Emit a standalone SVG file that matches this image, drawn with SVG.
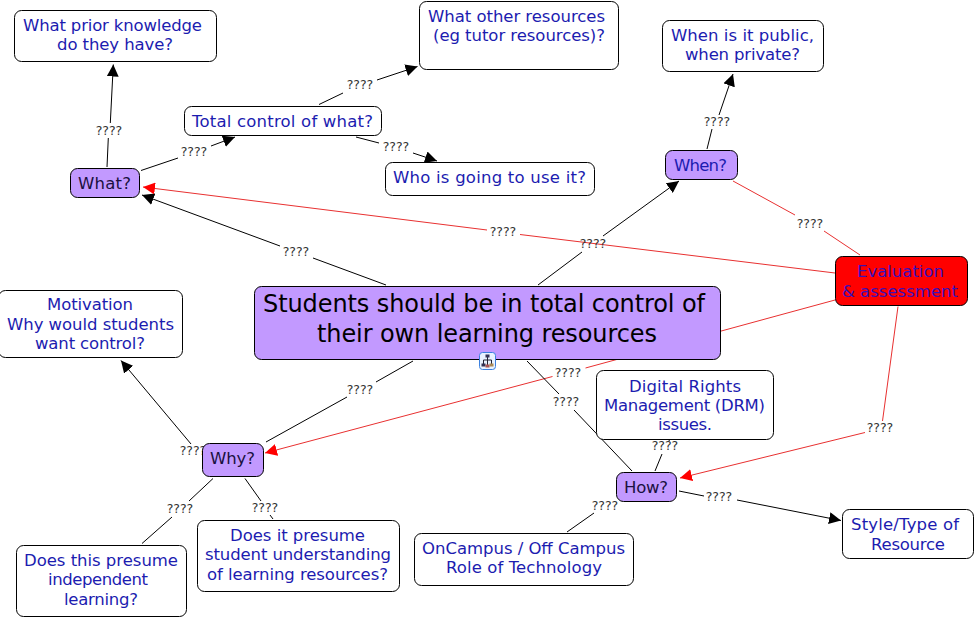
<svg xmlns="http://www.w3.org/2000/svg" width="975" height="619" viewBox="0 0 975 619">
<style>
text{font-family:"DejaVu Sans",Verdana,sans-serif;text-anchor:middle}
.n{font-size:16.500px;fill:#1c1cb0}
.d{font-size:16.500px;fill:#1a1040}
.l{font-size:12.500px;fill:#333}
.c{font-size:24px;fill:#000}
.w{fill:#fff;stroke:#000;stroke-width:1}
.p{fill:#c299ff;stroke:#000;stroke-width:1}
.k{stroke:#000;stroke-width:1;fill:none}
.r{stroke:#e83030;stroke-width:1;fill:none}
</style>
<defs>
<marker id="ab" markerUnits="userSpaceOnUse" markerWidth="14" markerHeight="12" refX="12" refY="6" orient="auto"><path d="M0 0L12 6L0 12Z" fill="#000"/></marker>
<marker id="ar" markerUnits="userSpaceOnUse" markerWidth="14" markerHeight="12" refX="12" refY="6" orient="auto"><path d="M0 0L12 6L0 12Z" fill="#f00"/></marker>
</defs>
<rect width="975" height="619" fill="#fff"/>
<g id="connectors">
<path class="k" d="M107 167L108.300 138"/><path class="k" d="M110.300 123L113.300 64.500" marker-end="url(#ab)"/>
<path class="k" d="M141 170.500L178 158"/><path class="k" d="M211 146L235 137" marker-end="url(#ab)"/>
<path class="k" d="M319 104.500L343 93"/><path class="k" d="M377 80L417.500 66.500" marker-end="url(#ab)"/>
<path class="k" d="M356 137L379 143"/><path class="k" d="M413 153L437 161" marker-end="url(#ab)"/>
<path class="k" d="M386 285L313 258"/><path class="k" d="M280 246L142 195" marker-end="url(#ab)"/>
<path class="r" d="M835 273L520 234.500"/><path class="r" d="M487 230L143 187" marker-end="url(#ar)"/>
<path class="k" d="M538 285L582 252"/><path class="k" d="M603 236L679 181" marker-end="url(#ab)"/>
<path class="k" d="M707 149L712 129"/><path class="k" d="M719 115L733 74" marker-end="url(#ab)"/>
<path class="r" d="M733 181L795 215"/><path class="r" d="M824 231L860 255"/>
<path class="r" d="M835 300L585.500 368"/><path class="r" d="M552.500 376.500L265 453" marker-end="url(#ar)"/>
<path class="k" d="M413 361L376 382"/><path class="k" d="M347 397L266 442"/>
<path class="k" d="M527 361L559 394"/><path class="k" d="M574 410L632 471"/>
<path class="k" d="M670 438L669 441"/><path class="k" d="M662 454L655 471"/>
<path class="r" d="M898 306.500L882.500 421"/><path class="r" d="M865 432.500L680 478" marker-end="url(#ar)"/>
<path class="k" d="M679 491L704 496"/><path class="k" d="M737 500L841 520.500" marker-end="url(#ab)"/>
<path class="k" d="M594 513L567 532"/>
<path class="k" d="M191 444L121 360.500" marker-end="url(#ab)"/>
<path class="k" d="M213 478.500L189 501"/><path class="k" d="M172 517L142 543.500"/>
<path class="k" d="M245 478.500L261 501"/><path class="k" d="M270 515L273 519"/>
</g>
<g id="connector-labels">
<text class="l" x="109" y="135">????</text>
<text class="l" x="194" y="156">????</text>
<text class="l" x="360" y="89">????</text>
<text class="l" x="396" y="151">????</text>
<text class="l" x="296" y="256">????</text>
<text class="l" x="503" y="236">????</text>
<text class="l" x="593" y="248">????</text>
<text class="l" x="717" y="126">????</text>
<text class="l" x="810" y="228">????</text>
<text class="l" x="360" y="394">????</text>
<text class="l" x="193" y="455">????</text>
<text class="l" x="180" y="513">????</text>
<text class="l" x="265" y="512">????</text>
<text class="l" x="568" y="377">????</text>
<text class="l" x="566" y="406">????</text>
<text class="l" x="665" y="450">????</text>
<text class="l" x="880" y="432">????</text>
<text class="l" x="719" y="501">????</text>
<text class="l" x="605" y="510">????</text>
</g>
<g id="prior"><rect class="w" x="14.500" y="10.500" width="202" height="51" rx="7"/><text class="n" x="112.500" y="31" textLength="179">What prior knowledge</text><text class="n" x="115" y="50" textLength="116">do they have?</text></g>
<g id="total"><rect class="w" x="184.500" y="106.500" width="197" height="29" rx="7"/><text class="n" x="282.500" y="127" textLength="181">Total control of what?</text></g>
<g id="what"><rect class="p" x="70.500" y="168.500" width="69" height="29" rx="7"/><text class="d" x="104.500" y="189" textLength="53">What?</text></g>
<g id="other"><rect class="w" x="419.500" y="1.500" width="199" height="68" rx="7"/><text class="n" x="516.500" y="22" textLength="177">What other resources</text><text class="n" x="519" y="41" textLength="172">(eg tutor resources)?</text></g>
<g id="who"><rect class="w" x="385.500" y="162.500" width="209" height="33" rx="7"/><text class="n" x="489.500" y="183" textLength="193">Who is going to use it?</text></g>
<g id="public"><rect class="w" x="662.500" y="20.500" width="161" height="51" rx="7"/><text class="n" x="742.500" y="41" textLength="143">When is it public,</text><text class="n" x="742.500" y="60" textLength="115">when private?</text></g>
<g id="when"><rect class="p" x="665.500" y="150.500" width="72" height="29" rx="7"/><text class="n" x="700.500" y="171" textLength="53">When?</text></g>
<g id="eval"><rect x="835.500" y="256.500" width="132" height="49" rx="7" fill="#f00" stroke="#000"/><text class="n" x="900.500" y="277" textLength="87" style="fill:#3a10b8">Evaluation</text><text class="n" x="900" y="297" textLength="116" style="fill:#3a10b8">&amp; assessment</text></g>
<g id="center"><rect class="p" x="254.500" y="286.500" width="466" height="73" rx="7"/><text class="c" x="484" y="312" textLength="442">Students should be in total control of</text><text class="c" x="487" y="342" textLength="340">their own learning resources</text></g>
<g id="icon"><rect x="479.500" y="352.500" width="16" height="17" rx="3" fill="#e8f2ff" stroke="#3a80e0"/><path d="M487.500 356V360M483.500 364V360H491.500V364M487.500 360V365" stroke="#223" fill="none"/><rect x="485.500" y="354.500" width="4" height="3" fill="#335"/><rect x="481.500" y="363.500" width="4" height="3" fill="#335"/><rect x="485.500" y="364.500" width="4" height="3" fill="#a55"/><rect x="489.500" y="363.500" width="4" height="3" fill="#a85"/></g>
<g id="motivation"><rect class="w" x="-1.500" y="290.500" width="184" height="67" rx="7"/><text class="n" x="90" y="310" textLength="86">Motivation</text><text class="n" x="90.500" y="330" textLength="167">Why would students</text><text class="n" x="90" y="349" textLength="110">want control?</text></g>
<g id="why"><rect class="p" x="202.500" y="443.500" width="61" height="33" rx="7"/><text class="d" x="232.500" y="464" textLength="45">Why?</text></g>
<g id="this"><rect class="w" x="16.500" y="545.500" width="170" height="71" rx="7"/><text class="n" x="101" y="566" textLength="154">Does this presume</text><text class="n" x="98" y="585" textLength="100">independent</text><text class="n" x="101" y="605" textLength="74">learning?</text></g>
<g id="it"><rect class="w" x="197.500" y="520.500" width="202" height="71" rx="7"/><text class="n" x="297.500" y="541" textLength="135">Does it presume</text><text class="n" x="298" y="560" textLength="186">student understanding</text><text class="n" x="297.500" y="580" textLength="181">of learning resources?</text></g>
<g id="oncampus"><rect class="w" x="414.500" y="533.500" width="219" height="52" rx="7"/><text class="n" x="523.500" y="554" textLength="203">OnCampus / Off Campus</text><text class="n" x="524" y="573" textLength="156">Role of Technology</text></g>
<g id="drm"><rect class="w" x="596.500" y="370.500" width="177" height="69" rx="7"/><text class="n" x="685" y="392" textLength="112">Digital Rights</text><text class="n" x="684.500" y="411" textLength="161">Management (DRM)</text><text class="n" x="685" y="430" textLength="54">issues.</text></g>
<g id="how"><rect class="p" x="616.500" y="472.500" width="60" height="29" rx="7"/><text class="d" x="646" y="493" textLength="44">How?</text></g>
<g id="style"><rect class="w" x="842.500" y="509.500" width="131" height="49" rx="7"/><text class="n" x="905" y="530" textLength="108">Style/Type of</text><text class="n" x="908" y="550" textLength="74">Resource</text></g>
</svg>
